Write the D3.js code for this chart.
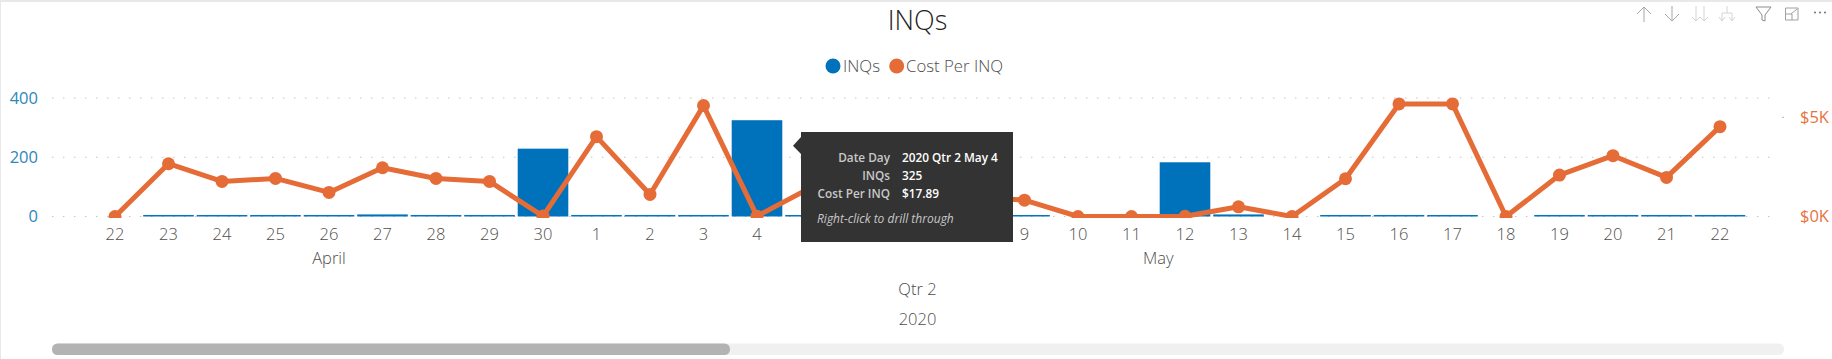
<!DOCTYPE html>
<html>
<head>
<meta charset="utf-8">
<script src="https://cdn.jsdelivr.net/npm/d3@7"></script>
<style>
  html, body { margin: 0; padding: 0; background: #fff; overflow: hidden; }
  text { font-family: "Open Sans", sans-serif; font-weight: 300; }
</style>
</head>
<body>
<div id="chart"></div>
<script>
// Values. Days 5-8 of May sit behind the tooltip, so they are estimates.
const dayLabels = ["22","23","24","25","26","27","28","29","30","1","2","3","4","5","6","7","8","9","10","11","12","13","14","15","16","17","18","19","20","21","22"];
const inqs = [0,5,5,5,5,7,5,5,229,5,5,5,325,5,5,5,5,5,0,0,183,7,0,5,5,5,0,5,5,5,5];
const costPerInq = [0,2660,1768,1919,1212,2458,1919,1768,20,4024,1111,5589,17.89,1448,1500,1250,993,825,0,0,10,488,0,1902,5673,5673,0,2088,3064,1970,4529];
const leftTicks = [0,200,400];
const rightTicks = [0,5000];
const monthLabels = ["April","May"];
const monthSpans = [[0,8],[9,30]];
const tooltipLabels = ["Date Day","INQs","Cost Per INQ"];
const tooltipValues = ["2020 Qtr 2 May 4","325","$17.89"];

const blue = "#0072bc";
const orange = "#e56c37";
const textGrey = "#4f4d4b";
const width = 1832;
const height = 359;

const svg = d3.select("#chart").append("svg")
  .attr("width", width)
  .attr("height", height)
  .style("display", "block");

// Frame of the visual
svg.append("rect").attr("width", width).attr("height", 2).attr("fill", "#e8e8e8");
svg.append("rect").attr("width", 1).attr("height", height).attr("fill", "#e8e8e8");

// Scales
const x = d3.scaleBand()
  .domain(d3.range(dayLabels.length))
  .range([88.25, 1746.75])
  .paddingInner(0.054)
  .paddingOuter(0.027);
const yLeft = d3.scaleLinear().domain([0, 400]).range([216.5, 98]);
const yRight = d3.scaleLinear().domain([0, 5000]).range([216.5, 117.3]);
const xMid = (i) => x(i) + x.bandwidth() / 2;

// Dotted grid lines
svg.append("g").selectAll("line")
  .data(leftTicks)
  .enter()
  .append("line")
  .attr("x1", 52)
  .attr("x2", 1778)
  .attr("y1", (d) => yLeft(d))
  .attr("y2", (d) => yLeft(d))
  .attr("stroke", "#c4c4c4")
  .attr("stroke-width", 1.2)
  .attr("stroke-dasharray", "1.4 9.6");
// little bit of the right axis grid that shows past the left one
svg.append("line")
  .attr("x1", 1782).attr("x2", 1784)
  .attr("y1", yRight(5000)).attr("y2", yRight(5000))
  .attr("stroke", "#c4c4c4").attr("stroke-width", 1.2);

// Bars
svg.append("g").selectAll("rect")
  .data(inqs)
  .enter()
  .append("rect")
  .attr("x", (d, i) => x(i))
  .attr("y", (d) => yLeft(d))
  .attr("width", x.bandwidth())
  .attr("height", (d) => yLeft(0) - yLeft(d))
  .attr("fill", blue);

// The line and its markers are cut off at the axis baseline
svg.append("clipPath").attr("id", "plotClip")
  .append("rect").attr("x", 52).attr("y", 90).attr("width", 1726).attr("height", 128);
const lineGroup = svg.append("g").attr("clip-path", "url(#plotClip)");
const line = d3.line()
  .x((d, i) => xMid(i))
  .y((d) => yRight(d));
lineGroup.append("path")
  .datum(costPerInq)
  .attr("d", line)
  .attr("fill", "none")
  .attr("stroke", orange)
  .attr("stroke-width", 5)
  .attr("stroke-linejoin", "round");
lineGroup.selectAll("circle")
  .data(costPerInq)
  .enter()
  .append("circle")
  .attr("cx", (d, i) => xMid(i))
  .attr("cy", (d) => yRight(d))
  .attr("r", 6.5)
  .attr("fill", orange);

// Axes
const xAxis = d3.axisBottom(x).tickSize(0).tickPadding(0).tickFormat((i) => dayLabels[i]);
const leftAxis = d3.axisLeft(yLeft).tickValues(leftTicks).tickSize(0).tickPadding(0);
const rightAxis = d3.axisRight(yRight).tickValues(rightTicks).tickSize(0).tickPadding(0)
  .tickFormat((d) => "$" + d / 1000 + "K");

const xAxisG = svg.append("g").attr("transform", "translate(0,234)").call(xAxis);
xAxisG.selectAll("text").attr("y", 0).attr("dy", "0.35em").attr("fill", textGrey);
const leftG = svg.append("g").attr("transform", "translate(38,0)").call(leftAxis);
leftG.selectAll("text").attr("fill", "#2f86b8");
const rightG = svg.append("g").attr("transform", "translate(1800,0)").call(rightAxis);
rightG.selectAll("text").attr("fill", "#e8733f");
svg.selectAll(".domain").remove();
svg.selectAll(".tick text").style("font-size", "16.5px").style("font-family", null);
// the value axes read heavier than the day labels in the original
leftG.selectAll("text").style("font-weight", 400);
rightG.selectAll("text").style("font-weight", 400);

// Hierarchy labels under the days
function centerText(str, cx, cy, size, color) {
  return svg.append("text")
    .attr("x", cx)
    .attr("y", cy)
    .attr("dy", "0.35em")
    .attr("text-anchor", "middle")
    .attr("fill", color)
    .style("font-size", size + "px")
    .text(str);
}
monthLabels.forEach((m, k) => {
  centerText(m, (xMid(monthSpans[k][0]) + xMid(monthSpans[k][1])) / 2, 258, 16.5, textGrey);
});
const allMid = (xMid(0) + xMid(dayLabels.length - 1)) / 2;
centerText("Qtr 2", allMid, 289, 16.5, textGrey);
centerText("2020", allMid, 319, 16.5, textGrey);

// Title
centerText("INQs", allMid, 21, 27, "#1f1e1d");

// Legend
const legendItems = [
  { name: "INQs", color: blue, cx: 833, tx: 843 },
  { name: "Cost Per INQ", color: orange, cx: 896.7, tx: 906 },
];
const legend = svg.append("g");
legend.selectAll("circle")
  .data(legendItems)
  .enter()
  .append("circle")
  .attr("cx", (d) => d.cx)
  .attr("cy", 66)
  .attr("r", 7.5)
  .attr("fill", (d) => d.color);
legend.selectAll("text")
  .data(legendItems)
  .enter()
  .append("text")
  .attr("x", (d) => d.tx)
  .attr("y", 66)
  .attr("dy", "0.35em")
  .attr("fill", textGrey)
  .style("font-size", "16.8px")
  .text((d) => d.name);

// Scrollbar
svg.append("rect").attr("x", 52).attr("y", 343.5).attr("width", 1732).attr("height", 11.5).attr("rx", 5.5).attr("fill", "#f0f0f0");
svg.append("rect").attr("x", 52).attr("y", 343.5).attr("width", 678).attr("height", 11.5).attr("rx", 5.5).attr("fill", "#b3b3b3");

// Tooltip
const tip = svg.append("g");
tip.append("path").attr("d", "M801,137L793,145.7L801,154Z").attr("fill", "#333333");
tip.append("rect").attr("x", 801).attr("y", 132).attr("width", 212).attr("height", 110).attr("fill", "#333333");
tooltipLabels.forEach((t, i) => {
  const rowY = 157.7 + i * 18;
  tip.append("text").attr("x", 890).attr("y", rowY).attr("dy", "0.35em")
    .attr("text-anchor", "end").attr("fill", "#c8c8c8")
    .style("font-size", "11.8px").style("font-weight", 600).text(t);
  tip.append("text").attr("x", 902).attr("y", rowY).attr("dy", "0.35em")
    .attr("fill", "#ffffff")
    .style("font-size", "11.8px").style("font-weight", 600).text(tooltipValues[i]);
});
tip.append("text").attr("x", 817).attr("y", 218.7).attr("dy", "0.35em")
  .attr("fill", "#c8c8c8").style("font-size", "12px").style("font-style", "italic").style("font-weight", 400)
  .text("Right-click to drill through");

// Toolbar icons in the top right corner
const icons = svg.append("g").attr("fill", "none").attr("stroke-width", 1);
function icon(d, color) {
  icons.append("path").attr("d", d).attr("stroke", color);
}
icon("M1644,7V22M1637,14L1644,7L1651,14", "#a6a6a6");
icon("M1672,6V21M1665,14L1672,21L1679,14", "#a6a6a6");
icon("M1696,6V21M1692,17L1696,21L1700,17M1704,6V21M1700,17L1704,21L1708,17", "#d4d4d4");
icon("M1727,6V13M1722,13H1732M1722,13V21M1732,13V21M1719,17L1722,21L1725,17M1729,17L1732,21L1735,17", "#d4d4d4");
icon("M1756,7H1771L1765,15V21L1762,20V15Z", "#8c8c8c");
icon("M1785.5,8H1798V20H1785.5ZM1785.5,14H1792V20M1791,14L1797,9", "#a0a0a0");
[1815, 1820, 1825].forEach((cx) => {
  icons.append("circle").attr("cx", cx).attr("cy", 12.5).attr("r", 1).attr("fill", "#707070").attr("stroke", "none");
});
</script>
</body>
</html>
